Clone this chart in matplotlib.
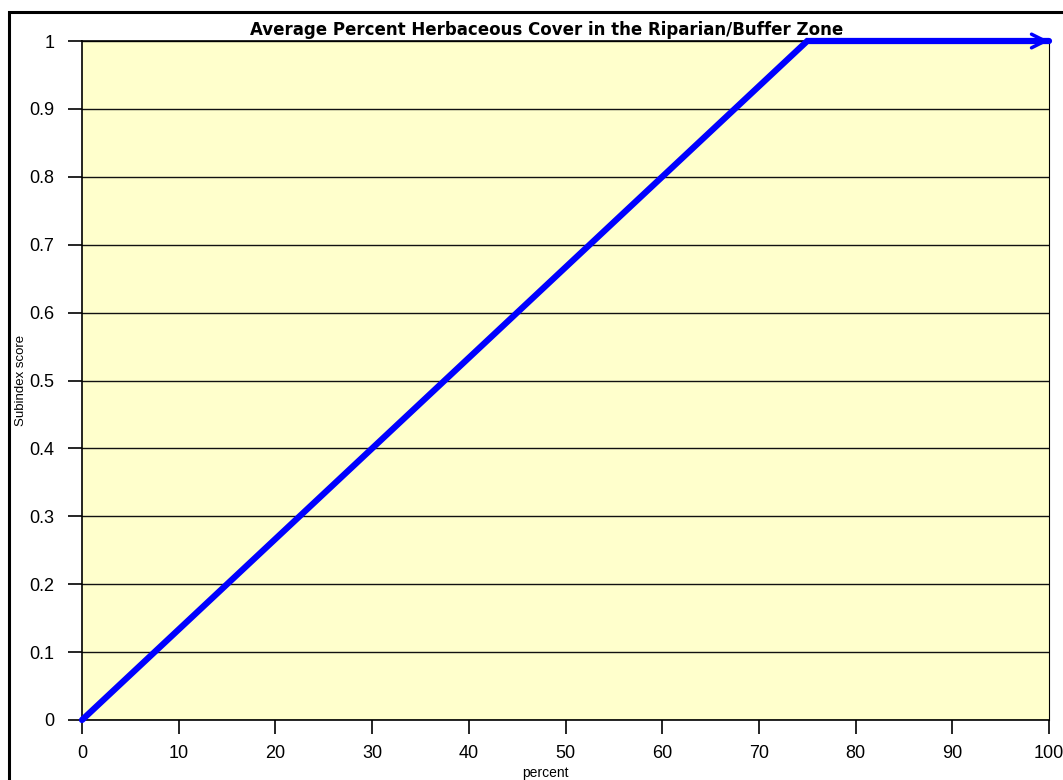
import matplotlib
matplotlib.use('Agg')
import matplotlib.pyplot as plt
from matplotlib.patches import Rectangle

plt.rcParams['font.family'] = ['Liberation Sans', 'DejaVu Sans']

# curve break points
percent = [0, 75, 100]
score = [0, 1, 1]
x_ticks = [0, 10, 20, 30, 40, 50, 60, 70, 80, 90, 100]
y_ticks = [0, 0.1, 0.2, 0.3, 0.4, 0.5, 0.6, 0.7, 0.8, 0.9, 1]

fig = plt.figure(figsize=(10.63, 7.80), dpi=100)
ax = fig.add_axes([82 / 1063, 1 - 720 / 780, (1049 - 82) / 1063, (720 - 41) / 780])
ax.set_facecolor('#FFFFCC')

# outer frame of the chart (cut off at right and bottom)
fig.patches.append(Rectangle((8.5 / 1063, -0.1), 1.2, 1 - 12.5 / 780 + 0.1,
                             transform=fig.transFigure, fill=False,
                             edgecolor='black', lw=2.2, zorder=0))

ax.plot(percent, score, color='#0000FF', lw=4.5,
        solid_capstyle='round', solid_joinstyle='miter', clip_on=False, zorder=3)
ax.annotate('', xy=(percent[-1], score[-1]), xytext=(percent[-1] - 3, score[-1]),
            arrowprops=dict(arrowstyle='->,head_length=0.7,head_width=0.35',
                            color='#0000FF', lw=2.5,
                            mutation_scale=14, shrinkA=0, shrinkB=0),
            annotation_clip=False, zorder=4)

ax.set_xlim(0, 100)
ax.set_ylim(0, 1)
ax.set_xticks(x_ticks)
ax.set_yticks(y_ticks)
ax.set_yticklabels([('%g' % v) for v in y_ticks])
ax.yaxis.grid(True, color='#111111', lw=1)
ax.set_axisbelow(True)
ax.tick_params(direction='out', length=10, width=1.2, labelsize=13, pad=8)
ax.tick_params(axis='y', pad=10)
for s in ax.spines.values():
    s.set_linewidth(1.2)
ax.spines['right'].set_linewidth(0.8)

ax.set_xlabel('percent', fontsize=10)
ax.xaxis.set_label_coords(0.479, -0.0672)
ax.set_ylabel('Subindex score', fontsize=9.5)
ax.yaxis.set_label_coords(-0.057, 0.5)
fig.text(547 / 1063, 1 - 30 / 780, 'Average Percent Herbaceous Cover in the Riparian/Buffer Zone',
         ha='center', va='center', fontsize=12, fontweight='bold', family='DejaVu Sans')

fig.savefig('out.png', dpi=100)
